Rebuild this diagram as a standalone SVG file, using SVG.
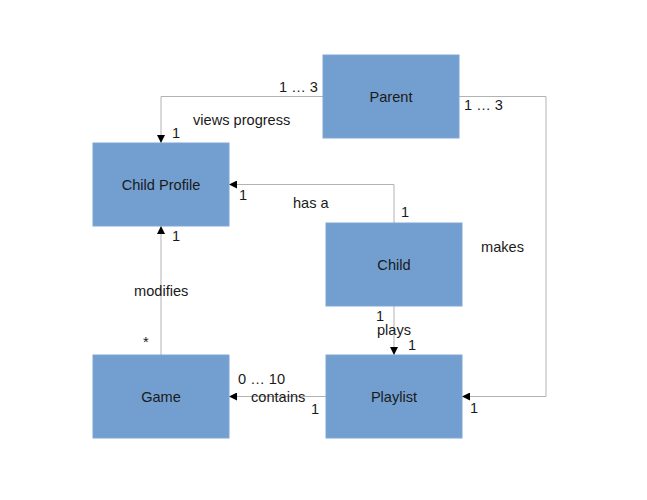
<svg xmlns="http://www.w3.org/2000/svg" width="647" height="500" viewBox="0 0 647 500">
<style>
.box{fill:#729fcf;stroke:#7fa7d4;stroke-width:1}
.nt{font-family:"Liberation Sans",Arial,sans-serif;font-size:14.6px;fill:#1a1a1a;text-anchor:middle}
.lb{font-family:"Liberation Sans",Arial,sans-serif;font-size:14.6px;fill:#1a1a1a}
.cn{fill:none;stroke:#b3b3b3;stroke-width:1}
</style>
<defs>
<marker id="arr" viewBox="0 0 10 10" refX="10" refY="5" markerWidth="8" markerHeight="8" markerUnits="userSpaceOnUse" orient="auto">
<path d="M0,0 L10,5 L0,10 z" fill="#000"/>
</marker>
</defs>
<rect width="647" height="500" fill="#fff"/>
<g id="connectors">
<path class="cn" d="M323,96.5 H161 V143" marker-end="url(#arr)"/>
<path class="cn" d="M394,223 V184.5 H229" marker-end="url(#arr)"/>
<path class="cn" d="M459,96.5 H546 V396.5 H462" marker-end="url(#arr)"/>
<path class="cn" d="M394,306 V355" marker-end="url(#arr)"/>
<path class="cn" d="M326,396.5 H229" marker-end="url(#arr)"/>
<path class="cn" d="M161,355 V226" marker-end="url(#arr)"/>
</g>
<g id="parent"><rect class="box" x="323" y="55" width="136" height="83"/><text class="nt" x="391" y="101.5">Parent</text></g>
<g id="child-profile"><rect class="box" x="93" y="143" width="136" height="83"/><text class="nt" x="161" y="189.5">Child Profile</text></g>
<g id="child"><rect class="box" x="326" y="223" width="136" height="83"/><text class="nt" x="394" y="269.5">Child</text></g>
<g id="game"><rect class="box" x="93" y="355" width="136" height="83"/><text class="nt" x="161" y="401.5">Game</text></g>
<g id="playlist"><rect class="box" x="326" y="355" width="136" height="83"/><text class="nt" x="394" y="401.5">Playlist</text></g>
<g id="labels">
<text class="lb" x="279" y="92">1 … 3</text>
<text class="lb" x="193" y="125">views progress</text>
<text class="lb" x="172" y="138">1</text>
<text class="lb" x="464" y="110">1 … 3</text>
<text class="lb" x="239" y="200">1</text>
<text class="lb" x="293" y="208">has a</text>
<text class="lb" x="401" y="217">1</text>
<text class="lb" x="481" y="252">makes</text>
<text class="lb" x="172" y="241">1</text>
<text class="lb" x="134" y="296">modifies</text>
<text class="lb" x="143" y="347">*</text>
<text class="lb" x="376" y="320.5">1</text>
<text class="lb" x="377" y="335">plays</text>
<text class="lb" x="408" y="350">1</text>
<text class="lb" x="238" y="384">0 … 10</text>
<text class="lb" x="251" y="402">contains</text>
<text class="lb" x="311" y="414">1</text>
<text class="lb" x="470" y="413">1</text>
</g>
</svg>
